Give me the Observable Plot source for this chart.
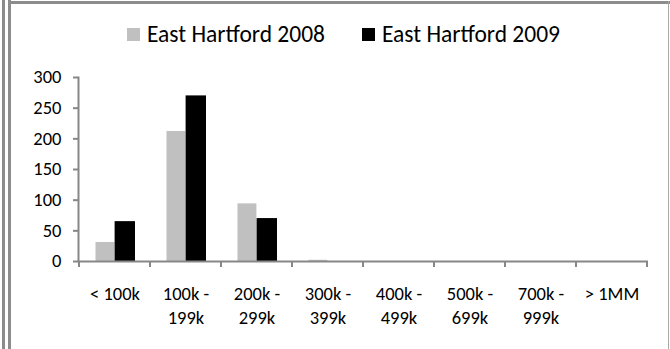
<!DOCTYPE html>
<html>
<head>
<meta charset="utf-8">
<script src="https://cdn.jsdelivr.net/npm/d3@7"></script>
<script src="https://cdn.jsdelivr.net/npm/@observablehq/plot@0.6"></script>
<style>
  html, body { margin: 0; padding: 0; background: #fff; }
  body { width: 670px; height: 349px; position: relative; overflow: hidden;
         font-family: Carlito, Calibri, "Open Sans", sans-serif; }
  .edge { position: absolute; background: #8c8c8c; }
  #legend { position: absolute; left: 0; top: 0; width: 670px; height: 60px; }
  .item { position: absolute; top: 20px; height: 28px; display: flex; align-items: center;
          font-size: 23.5px; color: #000; white-space: nowrap; }
  .swatch { width: 13px; height: 13px; margin-right: 7px; flex: none; }
  #chart { position: absolute; left: 0; top: 60px; }
</style>
</head>
<body>
<div class="edge" style="left:2px;top:0;width:3px;height:349px"></div>
<div class="edge" style="left:8px;top:0;width:3px;height:349px"></div>
<div class="edge" style="left:8px;top:1px;width:662px;height:3px"></div>
<div class="edge" style="left:668px;top:1px;width:1px;height:348px;background:#a8a8a8"></div>
<div id="legend"></div>
<div id="chart"></div>
<script>
// Home sales by price range, East Hartford
const categories = ["< 100k", "100k - 199k", "200k - 299k", "300k - 399k",
                    "400k - 499k", "500k - 699k", "700k - 999k", "> 1MM"];
const tickLabels = ["< 100k", "100k -\n199k", "200k -\n299k", "300k -\n399k",
                    "400k -\n499k", "500k -\n699k", "700k -\n999k", "> 1MM"];
const seriesNames = ["East Hartford 2008", "East Hartford 2009"];
const sales2008 = [31, 212, 94, 2, 0, 0, 0, 0];
const sales2009 = [65, 270, 70, 0, 0, 0, 0, 0];
const yTicks = [0, 50, 100, 150, 200, 250, 300];
const colors = ["#c0c0c0", "#000000"];

const rows2008 = categories.map((c, i) => ({range: c, count: sales2008[i]}));
const rows2009 = categories.map((c, i) => ({range: c, count: sales2009[i]}));
const axisColor = "#878787";
const font = "Carlito, Calibri, 'Open Sans', sans-serif";

// legend
const legend = document.getElementById("legend");
const legendLeft = [127, 362];
seriesNames.forEach((name, i) => {
  const item = document.createElement("div");
  item.className = "item";
  item.style.left = legendLeft[i] + "px";
  const sw = document.createElement("span");
  sw.className = "swatch";
  sw.style.background = colors[i];
  const label = document.createElement("span");
  label.textContent = name;
  item.append(sw, label);
  legend.append(item);
});

const plot = Plot.plot({
  width: 670,
  height: 289,
  marginTop: 17,
  marginBottom: 88,
  marginLeft: 78,
  marginRight: 22,
  style: {fontFamily: font, fontSize: "18px", color: "#000", background: "transparent"},
  x: {domain: categories, padding: 0, axis: null},
  y: {domain: [0, 300], axis: null},
  marks: [
    Plot.barY(rows2008, {x: "range", y: "count", fill: colors[0], insetLeft: 16.5, insetRight: 35.6}),
    Plot.barY(rows2009, {x: "range", y: "count", fill: colors[1], insetLeft: 35.6, insetRight: 15}),
    Plot.axisY({ticks: yTicks, tickSize: 5, tickPadding: 12, stroke: axisColor, strokeWidth: 2,
                fontSize: 18.5, label: null, tickFormat: d => String(d)}),
    Plot.axisX({tickSize: 0, tickPadding: 21, lineHeight: 1.32, fontSize: 18.5, label: null,
                tickFormat: d => tickLabels[categories.indexOf(d)]}),
    Plot.frame({anchor: "left", stroke: axisColor, strokeWidth: 2}),
    Plot.ruleY([0], {stroke: axisColor, strokeWidth: 2})
  ]
});
document.getElementById("chart").append(plot);

// tick marks at the category boundaries along the x axis
const xs = plot.scale("x");
const ys = plot.scale("y");
const edges = categories.map(c => xs.apply(c)).concat([xs.apply(categories[categories.length - 1]) + xs.bandwidth]);
const y0 = ys.apply(0);
d3.select(plot).append("g")
  .attr("stroke", axisColor)
  .attr("stroke-width", 2)
  .selectAll("line")
  .data(edges)
  .join("line")
  .attr("x1", d => d).attr("x2", d => d)
  .attr("y1", y0).attr("y2", y0 + 6);
</script>
</body>
</html>
